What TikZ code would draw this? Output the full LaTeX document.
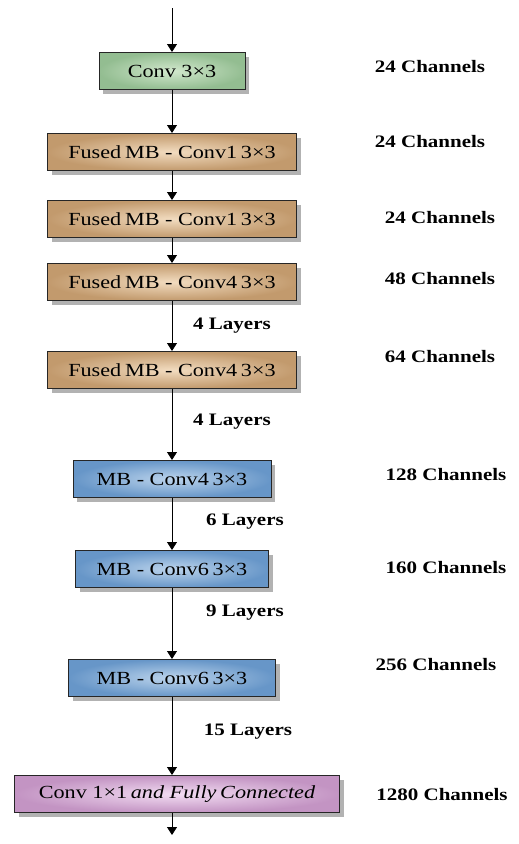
\documentclass[tikz,border=0pt]{standalone}
\usepackage{fontspec}
\usepackage{graphicx}
\setmainfont{Liberation Serif}
\usetikzlibrary{arrows.meta,shadows}
\definecolor{convedge}{HTML}{93BD91}
\definecolor{convmid}{HTML}{D2E8CD}
\definecolor{fusededge}{HTML}{C29A6D}
\definecolor{fusedmid}{HTML}{F2DCC0}
\definecolor{mbedge}{HTML}{6796C8}
\definecolor{mbmid}{HTML}{BCD4EC}
\definecolor{headedge}{HTML}{C394C3}
\definecolor{headmid}{HTML}{F2DCF2}
\newcommand{\wide}[1]{\scalebox{1.2}[1]{#1}}
\tikzstyle{block}=[draw=black!85,line width=1pt,minimum height=37pt,inner sep=0pt,
    font=\fontsize{18.5}{22}\selectfont,
    drop shadow={shadow xshift=4pt,shadow yshift=-4pt,fill=black!55,opacity=.55}]
\tikzstyle{conv}=[block,inner color=convmid,outer color=convedge]
\tikzstyle{fused}=[block,inner color=fusedmid,outer color=fusededge]
\tikzstyle{mb}=[block,inner color=mbmid,outer color=mbedge]
\tikzstyle{head}=[block,inner color=headmid,outer color=headedge]
\tikzstyle{info}=[font=\bfseries\fontsize{17.5}{21}\selectfont]
\tikzstyle{edge}=[draw,line width=0.9pt,-{Triangle[width=10pt,length=8pt]}]

\begin{document}
\begin{tikzpicture}[x=1pt,y=-1pt]
    \useasboundingbox (0,0) rectangle (519,844);
    % the blocks of the network
    \node[conv,minimum width=146pt] (b1) at (172,71) {\wide{Conv 3×3}};
    \node[fused,minimum width=249pt] (b2) at (172,152) {\wide{Fused\,MB - Conv1\,3×3}};
    \node[fused,minimum width=249pt] (b3) at (172,219) {\wide{Fused\,MB - Conv1\,3×3}};
    \node[fused,minimum width=249pt] (b4) at (172,282) {\wide{Fused\,MB - Conv4\,3×3}};
    \node[fused,minimum width=249pt] (b5) at (172,370) {\wide{Fused\,MB - Conv4\,3×3}};
    \node[mb,minimum width=198pt] (b6) at (172,479) {\wide{MB - Conv4\,3×3}};
    \node[mb,minimum width=193pt] (b7) at (172,569) {\wide{MB - Conv6\,3×3}};
    \node[mb,minimum width=207pt] (b8) at (172,678) {\wide{MB - Conv6\,3×3}};
    \node[head,minimum width=325pt] (b9) at (177,794) {\wide{Conv 1×1\,\textit{and Fully\,Connected}}};
    \coordinate (in) at (172,8);
    \coordinate (out) at (172,835);
    % channel counts
    \foreach \pos/\name/\txt in {{(430,67)/c1/24}, {(430,142)/c2/24}, {(440,218)/c3/24},
        {(440,279)/c4/48}, {(440,357)/c5/64}, {(446,475)/c6/128}, {(446,568)/c7/160},
        {(436,665)/c8/256}, {(442,795)/c9/1280}}
        \node[info] (\name) at \pos {\wide{\txt\ Channels}};
    % number of layers
    \foreach \pos/\name/\txt in {{(232,326)/l1/4}, {(232,422)/l2/4}, {(245,522)/l3/6},
        {(245,613)/l4/9}, {(248,732)/l5/15}}
        \node[info] (\name) at \pos {\wide{\txt\ Layers}};
    % Connect blocks with arrows
    \path[edge] (in) -- (b1);
    \foreach \source/\dest in {b1/b2, b2/b3, b3/b4, b4/b5, b5/b6, b6/b7, b7/b8}
        \path[edge] (\source) -- (\dest);
    \path[edge] (b8.south) -- (b8.south |- b9.north);
    \path[edge] (b9.south -| out) -- (out);
\end{tikzpicture}
\end{document}
